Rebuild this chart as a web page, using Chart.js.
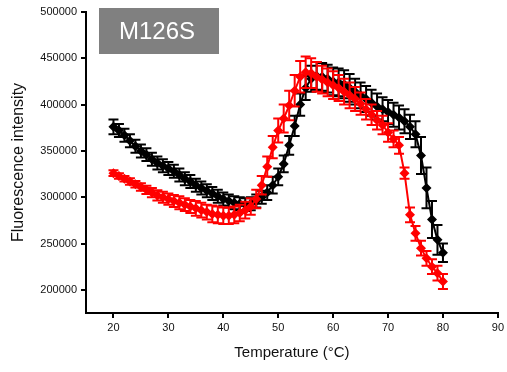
<!DOCTYPE html>
<html>
<head>
<meta charset="utf-8">
<script src="https://cdn.jsdelivr.net/npm/chart.js@4.4.1/dist/chart.umd.min.js"></script>
<style>
  html, body { margin: 0; padding: 0; background: #fff; }
  #wrap { width: 507px; height: 372px; position: relative; }
</style>
</head>
<body>
<div id="wrap"><canvas id="c" width="507" height="372"></canvas></div>
<script>
const temperatures = [20,21,22,23,24,25,26,27,28,29,30,31,32,33,34,35,36,37,38,39,40,41,42,43,44,45,46,47,48,49,50,51,52,53,54,55,56,57,58,59,60,61,62,63,64,65,66,67,68,69,70,71,72,73,74,75,76,77,78,79,80];

const blackValues = [376000,372000,367000,361000,355000,350000,346000,341000,337000,334000,331000,328000,324000,320000,317000,313000,310000,307000,304000,301000,298000,296000,294000,293000,292000,293000,296000,300000,305000,313000,322000,336000,356000,377000,400000,418000,428000,431000,430000,428000,425000,424000,422000,418000,414000,410000,406000,402000,398000,395000,392000,389000,386000,382000,376000,368000,345000,310000,276000,254000,240000];
const blackErrors = [8000,7000,7000,7000,7000,7000,7000,7000,7000,7000,7000,7000,7000,7000,7000,7000,7000,7000,7000,7000,7000,7000,7000,7000,7000,7000,7000,7000,8000,9000,9000,9000,10000,11000,12000,13000,14000,15000,15000,15000,15000,15000,15000,15000,14000,14000,14000,14000,14000,13000,13000,13000,13000,13000,13000,14000,20000,22000,20000,16000,10000];

const redValues = [326000,323000,320000,317000,314000,311000,308000,305000,302000,300000,298000,296000,294000,292000,290000,288000,286000,284000,282000,281000,280000,280000,281000,283000,286000,290000,298000,313000,333000,354000,372000,385000,399000,415000,430000,435000,434000,430000,427000,424000,421000,418000,414000,410000,406000,401000,395000,389000,383000,378000,370000,363000,356000,326000,281000,261000,245000,234000,225000,218000,209000];
const redErrors = [3000,3000,3000,3500,3500,4000,4500,5000,5500,6000,6000,6500,7000,7000,7000,8000,8000,8000,9000,9000,9000,9000,9000,9000,9000,9000,10000,10000,11000,12000,13000,15000,16000,17000,17000,17000,16000,16000,15000,15000,15000,14000,14000,14000,13000,12000,11000,11000,10000,10000,10000,9000,9000,6000,8000,8000,8000,8000,8000,8000,8000];

const xTickValues = [20,30,40,50,60,70,80,90];
const yTickValues = [200000,250000,300000,350000,400000,450000,500000];
const labelText = 'M126S';

const errorArrays = [blackErrors, redErrors];

const errorBarPlugin = {
  id: 'errorBars',
  beforeDatasetDraw(chart, args) {
    const ds = chart.data.datasets[args.index];
    const errs = errorArrays[args.index];
    const xs = chart.scales.x, ys = chart.scales.y;
    const ctx = chart.ctx;
    ctx.save();
    const a = chart.chartArea;
    ctx.beginPath();
    ctx.rect(a.left, a.top - 5, a.right - a.left, a.bottom - a.top + 5);
    ctx.clip();
    ctx.strokeStyle = ds.borderColor;
    ctx.lineWidth = 2;
    const cap = 5;
    ds.data.forEach((p, i) => {
      const x = xs.getPixelForValue(p.x);
      const y1 = ys.getPixelForValue(p.y + errs[i]);
      const y2 = ys.getPixelForValue(p.y - errs[i]);
      ctx.beginPath();
      ctx.moveTo(x, y1); ctx.lineTo(x, y2);
      ctx.moveTo(x - cap, y1); ctx.lineTo(x + cap, y1);
      ctx.moveTo(x - cap, y2); ctx.lineTo(x + cap, y2);
      ctx.stroke();
    });
    ctx.restore();
  }
};

const labelBoxPlugin = {
  id: 'labelBox',
  afterDraw(chart) {
    const ctx = chart.ctx;
    const a = chart.chartArea;
    ctx.save();
    const bx = a.left + 13, by = a.top - 4, bw = 120, bh = 46;
    ctx.fillStyle = '#808080';
    ctx.fillRect(bx, by, bw, bh);
    ctx.fillStyle = '#ffffff';
    ctx.font = '24px "Liberation Sans", Arial, sans-serif';
    ctx.textAlign = 'left';
    ctx.textBaseline = 'middle';
    ctx.fillText(labelText, bx + 20, by + bh / 2 + 1);
    ctx.restore();
  }
};

const mk = arr => temperatures.map((t, i) => ({x: t, y: arr[i]}));

new Chart(document.getElementById('c'), {
  type: 'line',
  data: {
    datasets: [
      {
        label: 'black',
        data: mk(blackValues),
        borderColor: '#000000',
        backgroundColor: '#000000',
        borderWidth: 2,
        pointStyle: 'rectRot',
        pointRadius: 5,
        pointBorderWidth: 0,
        tension: 0,
        order: 2
      },
      {
        label: 'red',
        data: mk(redValues),
        borderColor: '#ff0000',
        backgroundColor: '#ff0000',
        borderWidth: 2,
        pointStyle: 'rectRot',
        pointRadius: 5,
        pointBorderWidth: 0,
        tension: 0,
        order: 1
      }
    ]
  },
  options: {
    responsive: false,
    animation: false,
    devicePixelRatio: 1,
    layout: { padding: { left: 0, right: 9, top: 12, bottom: 0 } },
    plugins: { legend: { display: false }, tooltip: { enabled: false } },
    scales: {
      x: {
        type: 'linear',
        min: 15, max: 90,
        afterFit(s) { s.height = 59; },
        afterBuildTicks(s) { s.ticks = xTickValues.map(v => ({value: v})); },
        border: { display: true, color: '#000', width: 2 },
        grid: { drawOnChartArea: false, drawTicks: true, tickLength: 5, color: '#000', lineWidth: 2 },
        ticks: { color: '#111', font: { family: '"Liberation Sans", Arial', size: 11 }, padding: 3, maxRotation: 0 },
        title: { display: true, text: 'Temperature (°C)', color: '#111', font: { family: '"Liberation Sans", Arial', size: 15 }, padding: { top: 0, bottom: 10 } }
      },
      y: {
        type: 'linear',
        min: 175000, max: 500000,
        afterFit(s) { s.width = 86; },
        afterBuildTicks(s) { s.ticks = yTickValues.map(v => ({value: v})); },
        border: { display: true, color: '#000', width: 2 },
        grid: { drawOnChartArea: false, drawTicks: true, tickLength: 5, color: '#000', lineWidth: 2 },
        ticks: { color: '#111', font: { family: '"Liberation Sans", Arial', size: 11 }, padding: 4, callback: v => String(v) },
        title: { display: true, text: 'Fluorescence intensity', color: '#111', font: { family: '"Liberation Sans", Arial', size: 16 }, padding: { top: 9, bottom: 0 } }
      }
    }
  },
  plugins: [errorBarPlugin, labelBoxPlugin]
});
</script>
</body>
</html>
